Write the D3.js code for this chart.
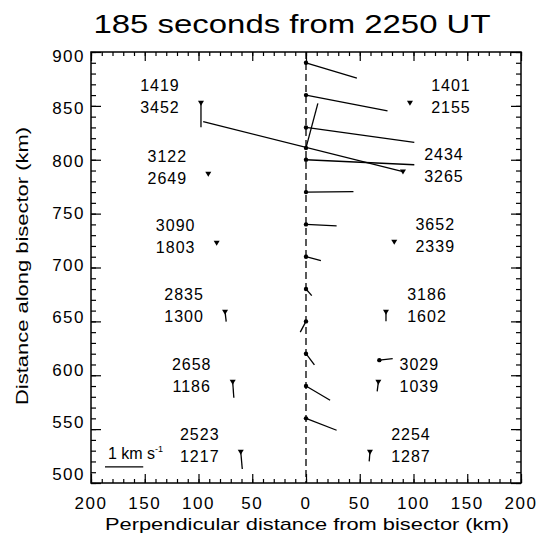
<!DOCTYPE html>
<html>
<head>
<meta charset="utf-8">
<script src="https://cdn.jsdelivr.net/npm/d3@7"></script>
<style>
  body { margin: 0; background: #fff; }
  svg { font-family: "Liberation Sans", Arial, sans-serif; }
</style>
</head>
<body>
<div id="chart"></div>
<script>
var width = 539, height = 538;

// points on the bisector (x = 0) and their velocity vectors (km/s)
var centerY  = [890, 860, 830, 811, 800, 770, 740, 710, 680, 650, 620, 590, 560];
var centerVx = [1.33, 2.13, 2.83, 0.31, 2.83, 1.24, 0.80, 0.39, 0.15, -0.15, 0.22, 0.63, 0.80];
var centerVy = [-0.40, -0.41, -0.39, 1.16, -0.13, 0.01, -0.04, -0.10, -0.17, -0.28, -0.29, -0.37, -0.31];

// stations either side of the bisector (negative = left side)
var sideX  = [-97.7, -90.9, -83.1, -75.3, -68.2, -60.7, 96.7, 90.2, 82.1, 74.4, 67.3, 59.5];
var sideY  = [853, 787, 723, 659, 594, 529, 853, 789, 724, 659, 594, 529];
var upperIds = ["1419", "3122", "3090", "2835", "2658", "2523", "1401", "2434", "3652", "3186", "3029", "2254"];
var lowerIds = ["3452", "2649", "1803", "1300", "1186", "1217", "2155", "3265", "2339", "1602", "1039", "1287"];
var sideVx = [0, 0, 0, 0.03, 0.03, 0.04, 0, -5.22, 0, 0, -0.03, -0.02];
var sideVy = [-0.64, 0, 0, -0.26, -0.42, -0.45, 0, 1.30, 0, -0.25, -0.25, -0.25];

// second marker next to 3029
var extraX = [68.2], extraY = [614], extraVx = [0.35], extraVy = [0.04];

var kmPerKms = 35.6;          // plot length of 1 km/s
var scaleBarAt = [-187, 515]; // where the 1 km/s bar starts

var xTicks = d3.range(-200, 201, 50);
var yTicks = d3.range(500, 901, 50);

var svg = d3.select("#chart").append("svg")
  .attr("width", width)
  .attr("height", height);

var x = d3.scaleLinear().domain([-200, 200]).range([91, 521]);
var y = d3.scaleLinear().domain([500, 900]).range([483, 52]);
// IDL spaces the y labels slightly tighter than the ticks
var yLab = d3.scaleLinear().domain([500, 900]).range([474, 56]);

// minor + major ticks on all four sides, pointing inward
function tickAxis(axis, scale, vals, size) {
  return axis(scale).tickValues(vals).tickSize(-size).tickFormat("");
}
var xMinor = d3.range(-200, 201, 10), yMinor = d3.range(500, 901, 10);
[[d3.axisBottom, 483, xMinor, 4], [d3.axisBottom, 483, xTicks, 9],
 [d3.axisTop, 52, xMinor, 4], [d3.axisTop, 52, xTicks, 9]].forEach(function(a) {
  svg.append("g").attr("transform", "translate(0," + a[1] + ")")
    .call(tickAxis(a[0], x, a[2], a[3]));
});
[[d3.axisLeft, 91, yMinor, 5], [d3.axisLeft, 91, yTicks, 10],
 [d3.axisRight, 521, yMinor, 5], [d3.axisRight, 521, yTicks, 10]].forEach(function(a) {
  svg.append("g").attr("transform", "translate(" + a[1] + ",0)")
    .call(tickAxis(a[0], y, a[2], a[3]));
});
svg.selectAll(".domain").remove();
svg.selectAll(".tick line").attr("stroke", "#000").attr("stroke-width", 1.2);

svg.append("rect")
  .attr("x", x(-200)).attr("y", y(900))
  .attr("width", x(200) - x(-200)).attr("height", y(500) - y(900))
  .attr("fill", "none").attr("stroke", "#000").attr("stroke-width", 1.5);

// tick labels
svg.selectAll(".xlab").data(xTicks).enter().append("text")
  .attr("class", "xlab")
  .attr("x", function(d) { return x(d); })
  .attr("y", 509)
  .attr("text-anchor", "middle")
  .attr("font-size", 17)
  .attr("letter-spacing", 1.5)
  .text(function(d) { return Math.abs(d); });

svg.selectAll(".ylab").data(yTicks).enter().append("text")
  .attr("class", "ylab")
  .attr("x", 85)
  .attr("y", function(d) { return yLab(d) + 6; })
  .attr("text-anchor", "end")
  .attr("font-size", 17)
  .attr("letter-spacing", 1.5)
  .text(function(d) { return d; });

// titles
svg.append("text")
  .attr("x", 292).attr("y", 33)
  .attr("text-anchor", "middle")
  .attr("font-size", 26)
  .attr("textLength", 397).attr("lengthAdjust", "spacingAndGlyphs")
  .text("185 seconds from 2250 UT");

svg.append("text")
  .attr("x", 307).attr("y", 530)
  .attr("text-anchor", "middle")
  .attr("font-size", 17)
  .attr("textLength", 404).attr("lengthAdjust", "spacingAndGlyphs")
  .text("Perpendicular distance from bisector (km)");

svg.append("text")
  .attr("transform", "translate(28,266) rotate(-90)")
  .attr("text-anchor", "middle")
  .attr("font-size", 17)
  .attr("textLength", 278).attr("lengthAdjust", "spacingAndGlyphs")
  .text("Distance along bisector (km)");

// bisector
svg.append("line")
  .attr("x1", x(0)).attr("x2", x(0))
  .attr("y1", y(900)).attr("y2", y(500))
  .attr("stroke", "#000").attr("stroke-width", 1.3)
  .attr("stroke-dasharray", "7,4");

function vecEnd(px, py, vx, vy) {
  return [x(px + vx * kmPerKms), y(py + vy * kmPerKms)];
}

var centers = centerY.map(function(d, i) {
  return { x: 0, y: d, vx: centerVx[i], vy: centerVy[i] };
});
var sides = sideX.map(function(d, i) {
  return { x: d, y: sideY[i], up: upperIds[i], low: lowerIds[i], vx: sideVx[i], vy: sideVy[i] };
});
var extras = extraX.map(function(d, i) {
  return { x: d, y: extraY[i], vx: extraVx[i], vy: extraVy[i] };
});

var vecs = centers.concat(sides, extras).filter(function(d) { return d.vx || d.vy; });
svg.selectAll(".vec").data(vecs).enter().append("line")
  .attr("class", "vec")
  .attr("x1", function(d) { return x(d.x); })
  .attr("y1", function(d) { return y(d.y); })
  .attr("x2", function(d) { return vecEnd(d.x, d.y, d.vx, d.vy)[0]; })
  .attr("y2", function(d) { return vecEnd(d.x, d.y, d.vx, d.vy)[1]; })
  .attr("stroke", "#000").attr("stroke-width", 1.3);

svg.selectAll(".dot").data(centers.concat(extras)).enter().append("circle")
  .attr("class", "dot")
  .attr("cx", function(d) { return x(d.x); })
  .attr("cy", function(d) { return y(d.y); })
  .attr("r", 2.2)
  .attr("fill", "#000");

svg.selectAll(".tri").data(sides).enter().append("path")
  .attr("class", "tri")
  .attr("transform", function(d) { return "translate(" + x(d.x) + "," + y(d.y) + ")"; })
  .attr("d", "M-3,-2L3,-2L0,3Z")
  .attr("fill", "#000");

var labs = svg.selectAll(".lab").data(sides).enter().append("g")
  .attr("class", "lab")
  .attr("transform", function(d) {
    return "translate(" + (x(d.x) + (d.x < 0 ? -41 : 41)) + "," + y(d.y) + ")";
  })
  .attr("font-size", 16)
  .attr("letter-spacing", 1)
  .attr("text-anchor", "middle");
labs.append("text").attr("y", -12).text(function(d) { return d.up; });
labs.append("text").attr("y", 10.5).text(function(d) { return d.low; });

// 1 km/s scale bar
svg.append("line")
  .attr("x1", x(scaleBarAt[0])).attr("x2", x(scaleBarAt[0] + kmPerKms))
  .attr("y1", y(scaleBarAt[1])).attr("y2", y(scaleBarAt[1]))
  .attr("stroke", "#000").attr("stroke-width", 1.3);
var sb = svg.append("text")
  .attr("x", x(scaleBarAt[0]) + 3).attr("y", y(scaleBarAt[1]) - 8)
  .attr("font-size", 16);
sb.append("tspan").text("1 km s");
sb.append("tspan").attr("font-size", 9).attr("dy", -7).text("-1");
</script>
</body>
</html>
